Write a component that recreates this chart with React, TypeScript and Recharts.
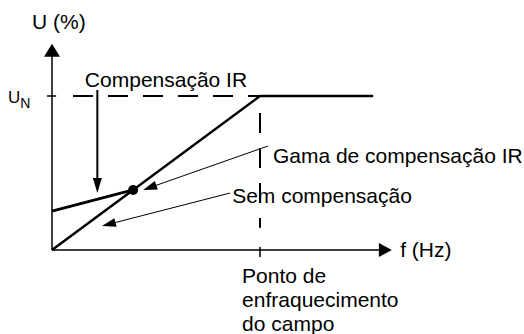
import { LineChart, Line, XAxis, YAxis, ReferenceLine, ReferenceDot } from "recharts";

// U/f characteristic: frequency in Hz-like units (field weakening at 50), voltage in % of U_N.
const noCompF = [0, 50, 77.2];
const noCompU = [0, 100, 100];
const compF = [0, 19.5];
const compU = [25.3, 39];

const fieldWeakF = 50;
const nominalU = 100;
const axisEndF = 81.7;
const axisEndU = 134;

const noComp = noCompF.map((f, i) => ({ f, U: noCompU[i] }));
const comp = compF.map((f, i) => ({ f, U: compU[i] }));

const FONT = '"Liberation Sans", Arial, Helvetica, sans-serif';

// line with a filled arrowhead at (x2, y2), drawn from ReferenceLine pixel coords
const arrow = (width: number, head: number, half: number) => (p: any) => {
  const { x1, y1, x2, y2 } = p;
  const dx = x2 - x1;
  const dy = y2 - y1;
  const len = Math.hypot(dx, dy) || 1;
  const ux = dx / len;
  const uy = dy / len;
  const bx = x2 - ux * head;
  const by = y2 - uy * head;
  const pts = `${x2},${y2} ${bx - uy * half},${by + ux * half} ${bx + uy * half},${by - ux * half}`;
  return (
    <g>
      <line x1={x1} y1={y1} x2={bx + ux} y2={by + uy} stroke="#000" strokeWidth={width} />
      <polygon points={pts} fill="#000" />
    </g>
  );
};

const label = (lines: string[], size = 21) => (p: any) => (
  <text x={p.cx} y={p.cy} fontFamily={FONT} fontSize={size} fill="#000">
    {lines.map((l, i) => (
      <tspan key={i} x={p.cx} dy={i ? 24 : 0}>
        {l}
      </tspan>
    ))}
  </text>
);

const unLabel = (p: any) => (
  <text x={p.cx} y={p.cy} fontFamily={FONT} fontSize={17} fill="#000">
    U
    <tspan fontSize={14} dy={5}>
      N
    </tspan>
  </text>
);

export default function App() {
  return (
    <div style={{ position: "absolute", left: 0, top: 0, width: 524, height: 334, background: "#fff" }}>
      <LineChart width={524} height={334} margin={{ top: 19, right: 56, bottom: 84, left: 52 }}>
        <XAxis type="number" dataKey="f" domain={[0, 100]} hide />
        <YAxis type="number" domain={[0, 150]} hide />

        {/* axes */}
        <ReferenceLine segment={[{ x: 0, y: 0 }, { x: axisEndF, y: 0 }]} ifOverflow="visible" shape={arrow(1.5, 13, 7)} />
        <ReferenceLine segment={[{ x: 0, y: 0 }, { x: 0, y: axisEndU }]} ifOverflow="visible" shape={arrow(1.5, 13, 8)} />

        {/* nominal voltage & field weakening guides */}
        <ReferenceLine segment={[{ x: -1.2, y: nominalU }, { x: 1, y: nominalU }]} ifOverflow="visible" stroke="#000" strokeWidth={1.5} />
        <ReferenceLine segment={[{ x: 5.05, y: nominalU }, { x: fieldWeakF, y: nominalU }]} ifOverflow="visible" stroke="#000" strokeWidth={2} strokeDasharray="20 15" />
        <ReferenceLine segment={[{ x: fieldWeakF, y: 89 }, { x: fieldWeakF, y: 14.5 }]} ifOverflow="visible" stroke="#000" strokeWidth={2} strokeDasharray="20 15" />
        <ReferenceLine segment={[{ x: fieldWeakF, y: 2 }, { x: fieldWeakF, y: -4.5 }]} ifOverflow="visible" stroke="#000" strokeWidth={1.5} />

        <Line data={noComp} dataKey="U" type="linear" stroke="#000" strokeWidth={2.5} dot={false} isAnimationActive={false} />
        <Line data={comp} dataKey="U" type="linear" stroke="#000" strokeWidth={2.8} dot={false} isAnimationActive={false} />
        <ReferenceDot x={compF[1]} y={compU[1]} r={5} fill="#000" stroke="none" />

        {/* annotation arrows */}
        <ReferenceLine segment={[{ x: 10.9, y: 103.9 }, { x: 10.9, y: 37 }]} ifOverflow="visible" shape={arrow(2, 15, 4.5)} />
        <ReferenceLine segment={[{ x: 51.9, y: 67.5 }, { x: 21.9, y: 39 }]} ifOverflow="visible" shape={arrow(1, 14, 4.5)} />
        <ReferenceLine segment={[{ x: 42.8, y: 37 }, { x: 12, y: 15.6 }]} ifOverflow="visible" shape={arrow(1, 14, 4.5)} />

        {/* text */}
        <ReferenceDot x={-4.8} y={143.5} ifOverflow="visible" shape={label(["U (%)"])} />
        <ReferenceDot x={-10.6} y={95.5} ifOverflow="visible" shape={unLabel} />
        <ReferenceDot x={7.9} y={105.8} ifOverflow="visible" shape={label(["Compensação IR"])} />
        <ReferenceDot x={53.1} y={56.5} ifOverflow="visible" shape={label(["Gama de compensação IR"])} />
        <ReferenceDot x={43.3} y={30.5} ifOverflow="visible" shape={label(["Sem compensação"])} />
        <ReferenceDot x={83.7} y={-4.5} ifOverflow="visible" shape={label(["f (Hz)"])} />
        <ReferenceDot x={45.7} y={-21.4} ifOverflow="visible" shape={label(["Ponto de", "enfraquecimento", "do campo"])} />
      </LineChart>
    </div>
  );
}
